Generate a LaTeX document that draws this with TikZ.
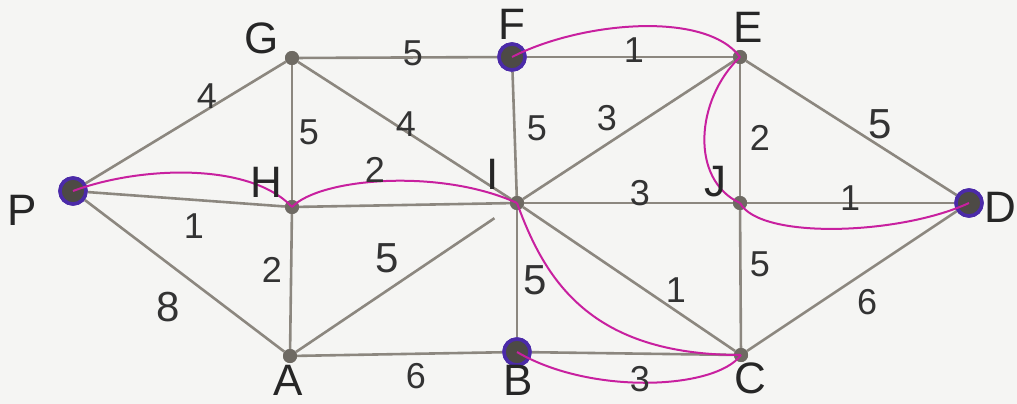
\documentclass[tikz,border=0pt]{standalone}
\usepackage{fontspec}
\setmainfont{Liberation Sans}
\definecolor{paper}{HTML}{F5F5F3}
\definecolor{edgegray}{HTML}{8C877F}
\definecolor{dotgray}{HTML}{6E6A63}
\definecolor{hlpurple}{HTML}{4B2AA8}
\definecolor{pathmag}{HTML}{C8209F}
\begin{document}
\begin{tikzpicture}[x=1pt,y=-1pt,
  dot/.style={circle,fill=dotgray,inner sep=0pt,minimum size=14pt},
  hdot/.style={circle,fill=dotgray!70!black,draw=hlpurple,line width=3.5pt,inner sep=0pt,minimum size=26pt},
  lab/.style={font=\fontsize{44}{46}\selectfont,text=black!85,inner sep=0pt},
  wt/.style={font=\fontsize{36}{38}\selectfont,text=black!80,inner sep=0pt},
  bigwt/.style={wt,font=\fontsize{42}{44}\selectfont},
  edge/.style={draw=edgegray,line width=2.6pt},
  route/.style={draw=pathmag,line width=2pt}]
\fill[paper] (0,0) rectangle (1017,404);
\useasboundingbox (0,0) rectangle (1017,404);
% vertices
\node[hdot] (P) at (73,191) {};
\node[dot] (G) at (292,58) {};
\node[dot] (H) at (292,207) {};
\node[dot] (A) at (290,356) {};
\node[hdot] (F) at (512,57) {};
\node[dot] (I) at (517,203) {};
\node[hdot] (B) at (517,352) {};
\node[dot] (E) at (740,57) {};
\node[dot] (J) at (740,203) {};
\node[dot] (C) at (741,355) {};
\node[hdot] (D) at (969,203) {};
% edges
\draw[edge] (P) -- (G);
\draw[edge] (P) -- (H);
\draw[edge] (P) -- (A);
\draw[edge] (G) -- (F);
\draw[edge] (G) -- (H);
\draw[edge] (G) -- (I);
\draw[edge] (H) -- (I);
\draw[edge] (H) -- (A);
\draw[edge,shorten >=20pt] (A) -- (I);
\draw[edge] (A) -- (B);
\draw[edge] (F) -- (E);
\draw[edge] (F) -- (I);
\draw[edge] (I) -- (E);
\draw[edge] (I) -- (J);
\draw[edge] (I) -- (B);
\draw[edge] (I) -- (C);
\draw[edge] (B) -- (C);
\draw[edge] (E) -- (J);
\draw[edge] (E) -- (D);
\draw[edge] (J) -- (D);
\draw[edge] (J) -- (C);
\draw[edge] (C) -- (D);
% redraw vertices on top
\node[hdot] at (P) {};
\node[dot] at (G) {};
\node[dot] at (H) {};
\node[dot] at (A) {};
\node[hdot] at (F) {};
\node[dot] at (I) {};
\node[hdot] at (B) {};
\node[dot] at (E) {};
\node[dot] at (J) {};
\node[dot] at (C) {};
\node[hdot] at (D) {};
% route
\draw[route] (P.center) .. controls (140,166) and (250,162) .. (H.center);
\draw[route] (H.center) .. controls (320,178) and (440,168) .. (I.center);
\draw[route] (I.center) .. controls (545,280) and (590,355) .. (C.center);
\draw[route] (C.center) .. controls (715,390) and (590,395) .. (B.center);
\draw[route] (F.center) .. controls (580,22) and (705,10) .. (E.center);
\draw[route] (E.center) .. controls (695,100) and (690,180) .. (J.center);
\draw[route] (J.center) .. controls (760,240) and (900,235) .. (D.center);
% vertex labels
\node[lab] (lP) at (22,210) {P};
\node[lab] (lG) at (262,38) {G};
\node[lab] (lH) at (266,182) {H};
\node[lab] (lA) at (288,380) {A};
\node[lab] (lF) at (512,24) {F};
\node[lab] (lI) at (493,174) {I};
\node[lab] (lB) at (518,380) {B};
\node[lab] (lE) at (748,27) {E};
\node[lab] (lJ) at (715,182) {J};
\node[lab] (lC) at (750,378) {C};
\node[lab] (lD) at (1000,207) {D};
% weights
\node[wt] (wPG) at (207,96) {4};
\node[wt] (wPH) at (194,226) {1};
\node[bigwt] (wPA) at (168,307) {8};
\node[wt] (wGF) at (413,53) {5};
\node[wt] (wGH) at (309,132) {5};
\node[wt] (wGI) at (406,124) {4};
\node[wt] (wHI) at (375,170) {2};
\node[wt] (wHA) at (272,270) {2};
\node[bigwt] (wAI) at (387,258) {5};
\node[wt] (wAB) at (416,376) {6};
\node[wt] (wFE) at (634,50) {1};
\node[wt] (wFI) at (537,128) {5};
\node[wt] (wIE) at (607,118) {3};
\node[wt] (wIJ) at (640,193) {3};
\node[wt] (wEJ) at (760,138) {2};
\node[bigwt] (wED) at (880,124) {5};
\node[wt] (wJD) at (850,198) {1};
\node[bigwt] (wIB) at (535,280) {5};
\node[wt] (wIC) at (676,290) {1};
\node[wt] (wJC) at (760,264) {5};
\node[wt] (wCD) at (867,302) {6};
\node[wt] (wBC) at (640,379) {3};
\end{tikzpicture}
\end{document}
